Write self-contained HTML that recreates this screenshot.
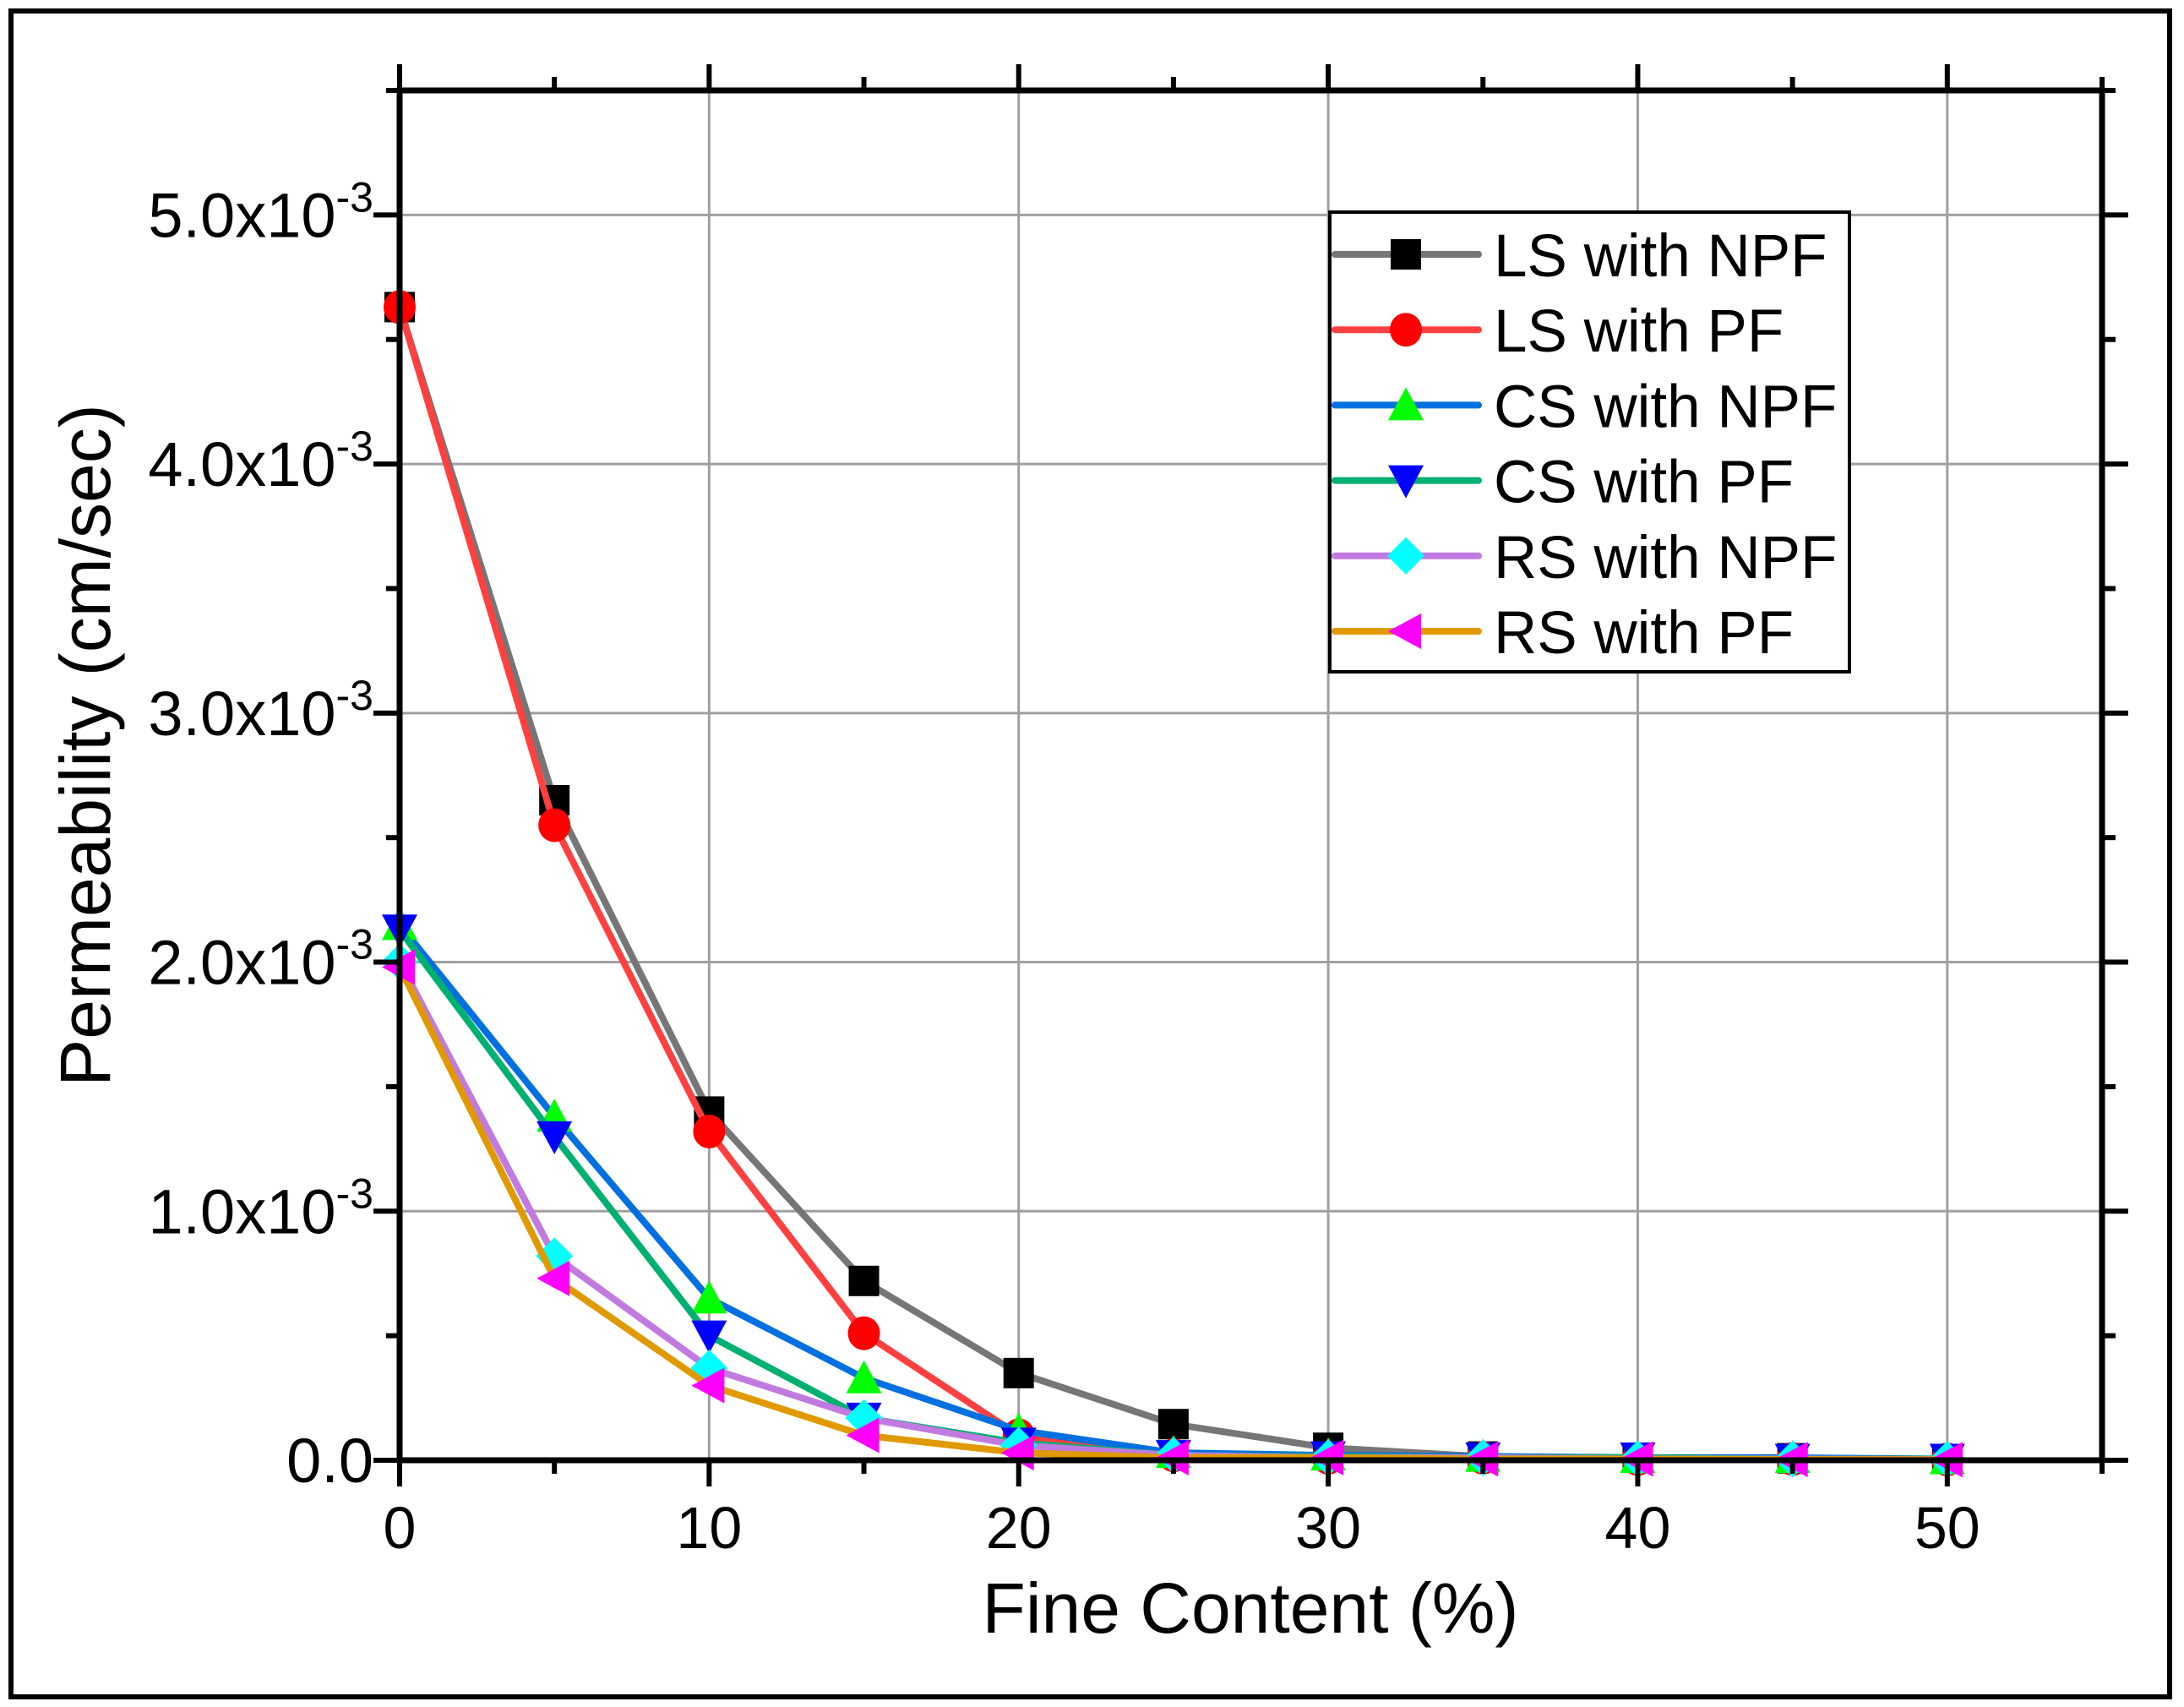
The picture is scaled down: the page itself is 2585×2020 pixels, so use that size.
<!DOCTYPE html>
<html><head><meta charset="utf-8"><style>
html,body{margin:0;padding:0;background:#fff;}
svg{display:block;font-family:"Liberation Sans",Arial,sans-serif;}
</style></head><body>
<svg id="chart" width="2585" height="2020" viewBox="0 0 2585 2020" xmlns="http://www.w3.org/2000/svg">
<rect x="13" y="13" width="2555" height="1995" fill="#fff" stroke="#000" stroke-width="6"/>
<g id="grid"></g>
<g id="series"></g>
<g id="axes"></g>
<text x="1480" y="1932" font-size="84" text-anchor="middle">Fine Content (%)</text>
<text transform="translate(130,882) rotate(-90)" font-size="84" text-anchor="middle">Permeability (cm/sec)</text>
<g id="legend"></g>
</svg>
<script>
const xValues = [0,5,10,15,20,25,30,35,40,45,50];
const seriesNames = ["LS with NPF","LS with PF","CS with NPF","CS with PF","RS with NPF","RS with PF"];
const lsNpf = [4.63,2.65,1.40,0.72,0.35,0.145,0.05,0.015,0.01,0.008,0.005];
const lsPf  = [4.63,2.55,1.32,0.51,0.10,0.02,0.01,0.01,0.005,0.005,0.003];
const csNpf = [2.15,1.38,0.65,0.33,0.12,0.03,0.02,0.015,0.01,0.01,0.005];
const csPf  = [2.13,1.30,0.50,0.17,0.07,0.02,0.015,0.01,0.01,0.005,0.005];
const rsNpf = [2.00,0.82,0.37,0.17,0.06,0.02,0.01,0.01,0.005,0.005,0.003];
const rsPf  = [1.98,0.73,0.30,0.10,0.03,0.01,0.01,0.005,0.005,0.003,0.002];
const xTicks = [0,10,20,30,40,50];
const yTicks = [0,1,2,3,4,5];
const yTickLabels = ["0.0","1.0x10","2.0x10","3.0x10","4.0x10","5.0x10"];

const L=473,R=2488,T=107,B=1728;
const xMax=55,yMax=5.5;
const sx=v=>L+(R-L)*v/xMax;
const sy=v=>B-(B-T)*v/yMax;
const NS="http://www.w3.org/2000/svg";
function mk(tag,attrs,parent){const e=document.createElementNS(NS,tag);for(const k in attrs)e.setAttribute(k,attrs[k]);parent.appendChild(e);return e;}
const grid=document.getElementById('grid'),axes=document.getElementById('axes'),ser=document.getElementById('series'),leg=document.getElementById('legend');

xTicks.forEach(t=>{if(t>0){const g=mk('line',{x1:sx(t),x2:sx(t),y1:T,y2:B,stroke:'#a0a0a0','stroke-width':3},grid);

}});
yTicks.forEach(t=>{if(t>0){const g=mk('line',{x1:L,x2:R,y1:sy(t),y2:sy(t),stroke:'#a0a0a0','stroke-width':3},grid);

}});

const fr=mk('rect',{x:L,y:T,width:R-L,height:B-T,fill:'none',stroke:'#000','stroke-width':7},axes);


for(let v=0;v<=55;v+=5){const major=v%10===0;const len=major?31:16;const x=sx(v);
const a=mk('line',{x1:x,x2:x,y1:B,y2:B+len,stroke:'#000','stroke-width':6},axes);


const b=mk('line',{x1:x,x2:x,y1:T,y2:T-len,stroke:'#000','stroke-width':6},axes);

}
for(let v=0;v<=5.5;v+=0.5){const major=Math.abs(v-Math.round(v))<1e-9;const len=major?31:16;const y=sy(v);
const a=mk('line',{x1:L,x2:L-len,y1:y,y2:y,stroke:'#000','stroke-width':6},axes);


const b=mk('line',{x1:R,x2:R+len,y1:y,y2:y,stroke:'#000','stroke-width':6},axes);

}
xTicks.forEach(t=>{const tx=mk('text',{x:sx(t),y:1832,'font-size':70,'text-anchor':'middle'},axes);tx.textContent=t;

});
yTicks.forEach((t,i)=>{const tx=mk('text',{x:442,y:sy(t)+26,'font-size':74,'text-anchor':'end'},axes);


tx.textContent=yTickLabels[i];
if(t>0){const s=document.createElementNS(NS,'tspan');s.setAttribute('dy','-30');s.setAttribute('font-size','50');s.textContent='-3';tx.appendChild(s);}});

const styles=[
 {data:lsNpf,line:'#767676',mark:'#000',shape:'square'},
 {data:lsPf,line:'#ff4040',mark:'#ff0000',shape:'circle'},
 {data:csNpf,line:'#0070e0',mark:'#00ff00',shape:'up'},
 {data:csPf,line:'#00b070',mark:'#0000ff',shape:'down'},
 {data:rsNpf,line:'#c07ae0',mark:'#00ffff',shape:'diamond'},
 {data:rsPf,line:'#e09a00',mark:'#ff00ff',shape:'left'}];
function marker(shape,x,y,c,parent){const s=18;let e;
 if(shape==='square')e=mk('rect',{x:x-s,y:y-s,width:2*s,height:2*s,fill:c},parent);
 else if(shape==='circle')e=mk('ellipse',{cx:x,cy:y,rx:s+1,ry:s+2,fill:c},parent);
 else{let p;
  if(shape==='up')p=[[x,y-s-3],[x+s+3,y+s],[x-s-3,y+s]];
  if(shape==='down')p=[[x,y+s+3],[x+s+3,y-s],[x-s-3,y-s]];
  if(shape==='diamond')p=[[x,y-s-4],[x+s+4,y],[x,y+s+4],[x-s-4,y]];
  if(shape==='left')p=[[x-s-3,y],[x+s,y-s-3],[x+s,y+s+3]];
  e=mk('polygon',{points:p.map(q=>q.join(',')).join(' '),fill:c},parent);}
 return e;}
styles.forEach((st,i)=>{const g=mk('g',{},ser);
 
 
 const pl=mk('polyline',{points:st.data.map((v,j)=>sx(xValues[j])+','+sy(v)).join(' '),fill:'none',stroke:st.line,'stroke-width':8,'stroke-linejoin':'round'},g);
 
 
 st.data.forEach((v,j)=>{const m=marker(st.shape,sx(xValues[j]),sy(v),st.mark,g);
  
  });
});
const lb=mk('rect',{x:1574,y:251,width:615,height:544,fill:'#fff',stroke:'#000','stroke-width':4},leg);


styles.forEach((st,i)=>{const y=301+i*89.2;const g=mk('g',{},leg);
 
 
 mk('line',{x1:1580,x2:1750,y1:y,y2:y,stroke:st.line,'stroke-width':8,'stroke-linecap':'round'},g);
 marker(st.shape,1664,y,st.mark,g);
 const t=mk('text',{x:1768,y:y+26,'font-size':71},g);t.textContent=seriesNames[i];
});
</script>
</body></html>
